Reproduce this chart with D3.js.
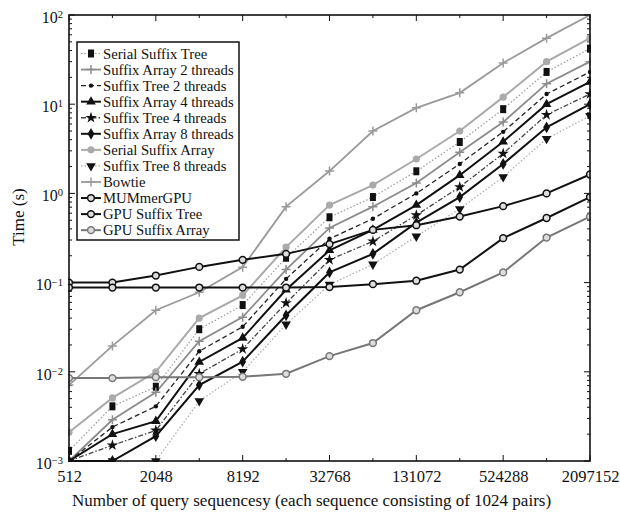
<!DOCTYPE html>
<html>
<head>
<meta charset="utf-8">
<script src="https://cdn.jsdelivr.net/npm/d3@7"></script>
<style>
  body { margin: 0; background: #fff; }
  svg { font-family: "Liberation Serif", "Times New Roman", serif; }
</style>
</head>
<body>
<div class="canvas"></div>
<script>
// data (seconds), one value per query count
const sizes = [512, 1024, 2048, 4096, 8192, 16384, 32768, 65536, 131072, 262144, 524288, 1048576, 2097152];
const xTickLabels = [512, 2048, 8192, 32768, 131072, 524288, 2097152];
const yTickLabels = [1e-3, 1e-2, 1e-1, 1e0, 1e1, 1e2];

const serialSuffixTree = [0.0013, 0.0041, 0.0068, 0.030, 0.056, 0.19, 0.54, 0.91, 1.77, 3.77, 8.8, 23, 42];
const suffixArray2 = [0.001, 0.0029, 0.0059, 0.022, 0.041, 0.14, 0.41, 0.71, 1.31, 2.9, 6.3, 17, 30];
const suffixTree2 = [0.001, 0.0024, 0.0041, 0.017, 0.032, 0.11, 0.31, 0.52, 1.0, 2.14, 4.9, 13, 23];
const suffixArray4 = [0.001, 0.002, 0.0028, 0.0129, 0.024, 0.083, 0.23, 0.39, 0.74, 1.6, 3.8, 10, 17.8];
const suffixTree4 = [0.001, 0.0015, 0.0022, 0.0095, 0.018, 0.059, 0.18, 0.29, 0.57, 1.18, 2.8, 7.6, 13];
const suffixArray8 = [0.001, 0.001, 0.0019, 0.0071, 0.013, 0.043, 0.13, 0.21, 0.47, 0.91, 2.14, 5.5, 10];
const serialSuffixArray = [0.0021, 0.0051, 0.010, 0.040, 0.072, 0.25, 0.74, 1.24, 2.43, 5.0, 12, 30, 55];
const suffixTree8 = [null, 0.001, 0.001, 0.0047, 0.010, 0.034, 0.095, 0.16, 0.33, 0.67, 1.53, 4.1, 7.4];
const bowtie = [0.0071, 0.0195, 0.049, 0.078, 0.149, 0.71, 1.78, 5.0, 9.1, 13.4, 29, 55, 100];
const mummerGPU = [0.1, 0.1, 0.12, 0.15, 0.18, 0.21, 0.27, 0.39, 0.44, 0.55, 0.72, 1.0, 1.63];
const gpuSuffixTree = [0.088, 0.088, 0.088, 0.088, 0.088, 0.088, 0.089, 0.096, 0.105, 0.14, 0.315, 0.53, 0.91];
const gpuSuffixArray = [0.0085, 0.0085, 0.0087, 0.0087, 0.0088, 0.0095, 0.015, 0.021, 0.049, 0.078, 0.13, 0.32, 0.55];

const series = [
  { name: "Serial Suffix Tree", values: serialSuffixTree, stroke: "#9a9a9a", width: 1.2, dash: "1.5,2", marker: "square", fill: "#111" },
  { name: "Suffix Array 2 threads", values: suffixArray2, stroke: "#8c8c8c", width: 1.8, dash: null, marker: "plus", fill: "#8c8c8c" },
  { name: "Suffix Tree 2 threads", values: suffixTree2, stroke: "#222", width: 1.3, dash: "5,3", marker: "dot", fill: "#111" },
  { name: "Suffix Array 4 threads", values: suffixArray4, stroke: "#111", width: 2, dash: null, marker: "triangle", fill: "#111" },
  { name: "Suffix Tree 4 threads", values: suffixTree4, stroke: "#444", width: 1.3, dash: "5,2,1.5,2", marker: "star", fill: "#111" },
  { name: "Suffix Array 8 threads", values: suffixArray8, stroke: "#111", width: 2, dash: null, marker: "diamond", fill: "#111" },
  { name: "Serial Suffix Array", values: serialSuffixArray, stroke: "#aaa", width: 2, dash: null, marker: "circle", fill: "#aaa" },
  { name: "Suffix Tree 8 threads", values: suffixTree8, stroke: "#aaa", width: 1.2, dash: "1.5,2", marker: "triangleDown", fill: "#111" },
  { name: "Bowtie", values: bowtie, stroke: "#9a9a9a", width: 1.8, dash: null, marker: "plus", fill: "#9a9a9a" },
  { name: "MUMmerGPU", values: mummerGPU, stroke: "#111", width: 2, dash: null, marker: "ring", fill: "#111" },
  { name: "GPU Suffix Tree", values: gpuSuffixTree, stroke: "#111", width: 2, dash: null, marker: "ring", fill: "#111" },
  { name: "GPU Suffix Array", values: gpuSuffixArray, stroke: "#777", width: 2, dash: null, marker: "ring", fill: "#777" },
];

const margin = { top: 15, bottom: 52, left: 69, right: 30 };
const width = 620, height = 513;
const graphWidth = width - margin.left - margin.right;
const graphHeight = height - margin.top - margin.bottom;

const svg = d3.select(".canvas").append("svg")
  .attr("width", width)
  .attr("height", height);

const graph = svg.append("g")
  .attr("transform", `translate(${margin.left},${margin.top})`);

// scales
const x = d3.scaleLog().base(2).domain([512, 2097152]).range([0, graphWidth]);
const y = d3.scaleLog().domain([1e-3, 1e2]).range([graphHeight, 0]);

// clip so lines stay in the box
svg.append("defs").append("clipPath").attr("id", "clip")
  .append("rect").attr("x", -1).attr("y", -1)
  .attr("width", graphWidth + 2).attr("height", graphHeight + 2);

// minor ticks
const yMinor = [];
for (let e = -3; e < 2; e++) for (let k = 2; k < 10; k++) yMinor.push(k * Math.pow(10, e));
const xMinor = sizes.filter((s) => !xTickLabels.includes(s));

const ticks = graph.append("g").attr("stroke", "#111").attr("stroke-width", 1);
yMinor.forEach((v) => {
  ticks.append("line").attr("x1", 0).attr("x2", 3).attr("y1", y(v)).attr("y2", y(v));
  ticks.append("line").attr("x1", graphWidth).attr("x2", graphWidth - 3).attr("y1", y(v)).attr("y2", y(v));
});
yTickLabels.forEach((v) => {
  ticks.append("line").attr("x1", 0).attr("x2", 6).attr("y1", y(v)).attr("y2", y(v));
  ticks.append("line").attr("x1", graphWidth).attr("x2", graphWidth - 6).attr("y1", y(v)).attr("y2", y(v));
});
xMinor.forEach((v) => {
  ticks.append("line").attr("x1", x(v)).attr("x2", x(v)).attr("y1", graphHeight).attr("y2", graphHeight - 3);
  ticks.append("line").attr("x1", x(v)).attr("x2", x(v)).attr("y1", 0).attr("y2", 3);
});
xTickLabels.forEach((v) => {
  ticks.append("line").attr("x1", x(v)).attr("x2", x(v)).attr("y1", graphHeight).attr("y2", graphHeight - 6);
  ticks.append("line").attr("x1", x(v)).attr("x2", x(v)).attr("y1", 0).attr("y2", 6);
});

// axes (labels only, ticks drawn above)
const xAxis = d3.axisBottom(x).tickValues(xTickLabels).tickSize(0).tickPadding(9).tickFormat(d3.format("d"));
const xAxisGroup = graph.append("g").attr("transform", `translate(0,${graphHeight})`).call(xAxis);
xAxisGroup.select(".domain").remove();
xAxisGroup.selectAll("text").attr("font-size", 16.5).attr("fill", "#111")
  .attr("font-family", "Liberation Serif, serif");

const yAxis = d3.axisLeft(y).tickValues(yTickLabels).tickSize(0).tickPadding(6).tickFormat("");
const yAxisGroup = graph.append("g").call(yAxis);
yAxisGroup.select(".domain").remove();
yAxisGroup.selectAll(".tick text")
  .attr("font-size", 16).attr("fill", "#111")
  .attr("font-family", "Liberation Serif, serif")
  .attr("dy", "0.45em")
  .each(function (d) {
    const t = d3.select(this);
    t.append("tspan").text("10");
    t.append("tspan").attr("dy", "-0.45em").attr("font-size", 10.5)
      .text(Math.round(Math.log10(d)).toString().replace("-", "\u2212"));
  });

// lines
const line = d3.line()
  .defined((d) => d.v != null)
  .x((d) => x(d.s))
  .y((d) => y(d.v));

const plot = graph.append("g").attr("clip-path", "url(#clip)");

series.forEach((s) => {
  s.points = sizes.map((sz, i) => ({ s: sz, v: s.values[i] }));
  plot.append("path")
    .datum(s.points)
    .attr("fill", "none")
    .attr("stroke", s.stroke)
    .attr("stroke-width", s.width)
    .attr("stroke-dasharray", s.dash)
    .attr("d", line);
});

function drawMarker(g, s, cx, cy) {
  const m = s.marker;
  if (m === "square") {
    g.append("rect").attr("x", cx - 3).attr("y", cy - 4).attr("width", 6).attr("height", 8).attr("fill", s.fill);
  } else if (m === "plus") {
    g.append("path").attr("d", `M${cx - 4.5},${cy}H${cx + 4.5}M${cx},${cy - 4.5}V${cy + 4.5}`)
      .attr("stroke", s.fill).attr("stroke-width", 1.5);
  } else if (m === "dot") {
    g.append("circle").attr("cx", cx).attr("cy", cy).attr("r", 2.2).attr("fill", s.fill);
  } else if (m === "circle") {
    g.append("circle").attr("cx", cx).attr("cy", cy).attr("r", 3.6).attr("fill", s.fill);
  } else if (m === "ring") {
    g.append("circle").attr("cx", cx).attr("cy", cy).attr("r", 3.4)
      .attr("fill", "#ddd").attr("stroke", s.fill).attr("stroke-width", 1.5);
  } else {
    const types = { triangle: d3.symbolTriangle, star: d3.symbolStar, diamond: d3.symbolDiamond, triangleDown: d3.symbolTriangle };
    g.append("path")
      .attr("d", d3.symbol().type(types[m]).size(40)())
      .attr("transform", `translate(${cx},${cy})${m === "triangleDown" ? " rotate(180)" : ""}`)
      .attr("fill", s.fill);
  }
}

const markers = graph.append("g").attr("clip-path", "url(#clip)");
series.forEach((s) => {
  s.points.filter((d) => d.v != null).forEach((d) => drawMarker(markers, s, x(d.s), y(d.v)));
});

// box
graph.append("rect")
  .attr("width", graphWidth).attr("height", graphHeight)
  .attr("fill", "none").attr("stroke", "#111").attr("stroke-width", 1.6);

// legend
const legend = svg.append("g").attr("transform", "translate(77,42)");
legend.append("rect").attr("width", 162).attr("height", 198)
  .attr("fill", "#fff").attr("stroke", "#111").attr("stroke-width", 1.5);
series.forEach((s, i) => {
  const ly = 11.5 + i * 16.06;
  legend.append("line").attr("x1", 4).attr("x2", 24).attr("y1", ly).attr("y2", ly)
    .attr("stroke", s.stroke).attr("stroke-width", s.width).attr("stroke-dasharray", s.dash);
  drawMarker(legend, s, 14, ly);
  legend.append("text").attr("x", 26).attr("y", ly).attr("dy", "0.35em")
    .attr("font-size", 14.7).attr("fill", "#111").text(s.name);
});

// axis titles
svg.append("text")
  .attr("x", margin.left + graphWidth / 2 - 18).attr("y", 506)
  .attr("text-anchor", "middle").attr("font-size", 17).attr("fill", "#111")
  .text("Number of query sequencesy (each sequence consisting of 1024 pairs)");

svg.append("text")
  .attr("transform", "translate(24,217) rotate(-90)")
  .attr("text-anchor", "middle").attr("font-size", 17).attr("fill", "#111")
  .text("Time (s)");
</script>
</body>
</html>
